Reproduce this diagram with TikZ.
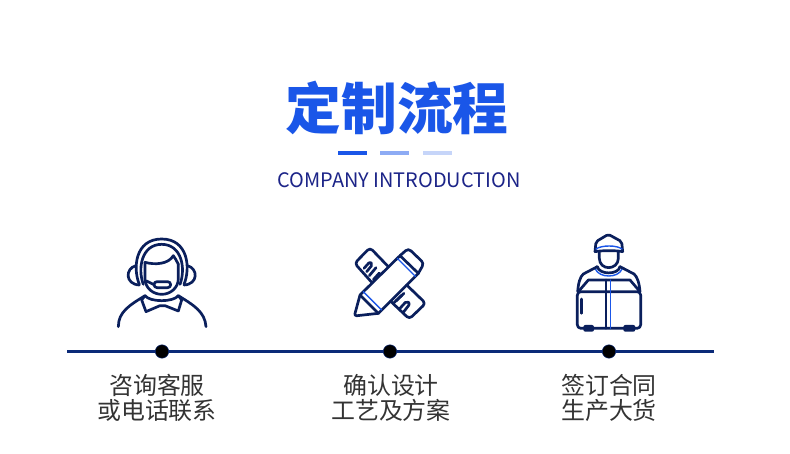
\documentclass[tikz,border=0pt]{standalone}
\usepackage{fontspec}
\setmainfont{Noto Sans CJK SC}
\usetikzlibrary{positioning}
\definecolor{titleblue}{HTML}{1A56E8}
\definecolor{subnavy}{HTML}{1C2488}
\definecolor{railnavy}{HTML}{0B2A78}
\definecolor{iconnavy}{HTML}{0A1F5C}
\definecolor{labelgrey}{HTML}{333333}
\tikzset{
  heading/.style  = {font=\fontsize{56}{60}\selectfont\bfseries, text=titleblue, inner sep=0pt},
  subhead/.style  = {font=\fontsize{20}{22}\selectfont, text=subnavy, inner sep=0pt},
  dash1/.style    = {line width=3.6pt, titleblue},
  dash2/.style    = {line width=3.6pt, titleblue!50},
  dash3/.style    = {line width=3.6pt, titleblue!25},
  rail/.style     = {line width=2.4pt, railnavy},
  stop/.style     = {circle, fill=black, draw=railnavy, line width=0.5pt, minimum size=13.5pt, inner sep=0pt},
  caption/.style  = {font=\fontsize{24}{25}\selectfont, text=labelgrey, align=center, inner sep=0pt},
  icon/.style     = {line width=2.7pt, iconnavy, line cap=round, line join=round},
  trim/.style     = {line width=1.4pt, titleblue},
}
\begin{document}
\begin{tikzpicture}[x=1bp, y=-1bp]
  \useasboundingbox (0,0) rectangle (790,454);
  \fill[white] (0,0) rectangle (790,454);
  % heading
  \node[heading] (title) at (397,108) {定制流程};
  \node[subhead] (sub) at (399,180) {COMPANY INTRODUCTION};
  \draw[dash1] (338,153) -- (367,153);
  \draw[dash2] (380,153) -- (409,153);
  \draw[dash3] (423,153) -- (452,153);
  % timeline
  \coordinate (railL) at (67,351.5);
  \coordinate (railR) at (714,351.5);
  \draw[rail] (railL) -- (railR);
  \node[stop] (s1) at (162,351.5) {};
  \node[stop] (s2) at (390,351.5) {};
  \node[stop] (s3) at (609,351.5) {};
  \node[caption, below=16bp of s1, xshift=-5bp] (c1) {咨询客服\\或电话联系};
  \node[caption, below=16bp of s2, xshift=1bp] (c2) {确认设计\\工艺及方案};
  \node[caption, below=16bp of s3] (c3) {签订合同\\生产大货};
  % headset
  \begin{scope}[shift={(100,225)}, scale=1/3, icon]
    \draw (118,178) .. controls (98,130) and (105,42) .. (185,42) .. controls (265,42) and (272,130) .. (252,178);
    \draw (130,178) .. controls (112,130) and (125,58) .. (185,58) .. controls (245,58) and (258,130) .. (240,178);
    \draw (135,112) -- (135,160) .. controls (135,190) and (160,208) .. (185,208) .. controls (210,208) and (235,190) .. (235,160) -- (235,118);
    \draw (135,112) .. controls (165,120) and (205,118) .. (220,92) .. controls (226,100) and (230,108) .. (235,118);
    \draw (108,122) .. controls (75,130) and (75,178) .. (118,180);
    \draw (262,122) .. controls (295,130) and (295,178) .. (252,180);
    \draw[rounded corners=3bp] (162,170) rectangle (212,188);
    \draw (162,179) -- (140,168);
    \draw (55,305) .. controls (55,260) and (90,240) .. (135,212) .. controls (150,232) and (220,232) .. (235,212) .. controls (280,240) and (315,260) .. (318,305);
    \draw (135,212) -- (125,225) -- (138,260) -- (180,242) -- (195,242) -- (235,258) -- (245,225) -- (235,212);
  \end{scope}
  % pencil and ruler
  \begin{scope}[shift={(340,235)}, scale=1/3, icon]
    \draw[rounded corners=3.5bp] (145,95) -- (90,38) -- (44,85) -- (96.5,143.5);
    \draw[rounded corners=3.5bp] (151.5,198.5) -- (208,252) -- (257,205) -- (200,150);
    \draw[rounded corners=2bp] (72,100) -- (90,80) -- (98,88) -- (80,110);
    \draw (88,122) -- (108,98);
    \draw (100,134) -- (118,114);
    \draw (160,205) -- (192,175);
    \draw (168,198) -- (186,180);
    \draw[rounded corners=2bp] (178,222) -- (200,198) -- (210,206) -- (190,232);
    \draw (60,180) -- (180,62);
    \draw (115,235) -- (235,115);
    \draw[rounded corners=3.5bp] (180,62) -- (205,40) -- (252,85) -- (235,115);
    \draw (180,62) -- (235,115);
    \draw[trim] (172,70) -- (226,124);
    \draw (60,180) -- (115,235);
    \draw[trim] (70,170) -- (125,225);
    \draw[rounded corners=2.5bp] (60,180) -- (43,243) -- (115,235);
  \end{scope}
  % courier with box
  \begin{scope}[shift={(560,225)}, scale=1/3, icon]
    \draw[rounded corners=2bp] (105,80) -- (108,50) -- (145,28) -- (185,50) -- (188,80);
    \draw[trim] (108,72) .. controls (125,60) and (170,60) .. (186,72);
    \draw (105,80) .. controls (125,76) and (170,76) .. (188,80);
    \draw (118,80) -- (118,100) .. controls (118,118) and (132,128) .. (146,128) .. controls (160,128) and (175,118) .. (175,100) -- (175,80);
    \draw (112,125) .. controls (118,150) and (175,150) .. (180,125);
    \draw[trim] (106,132) .. controls (118,160) and (175,160) .. (186,132);
    \draw (112,125) -- (70,147) .. controls (60,155) and (55,175) .. (53,200);
    \draw (180,125) -- (222,147) .. controls (232,155) and (238,175) .. (240,200);
    \draw[rounded corners=3.5bp] (52,200) rectangle (242,310);
    \draw (55,200) -- (85,165) -- (210,165) -- (240,200);
    \draw (138,165) -- (138,310);
    \draw[trim] (152,165) -- (152,310);
    \draw (65,222) -- (65,265);
    \fill[iconnavy, rounded corners=2bp] (70,300) rectangle (102,320);
    \fill[iconnavy, rounded corners=2bp] (190,300) rectangle (226,320);
  \end{scope}
\end{tikzpicture}
\end{document}
